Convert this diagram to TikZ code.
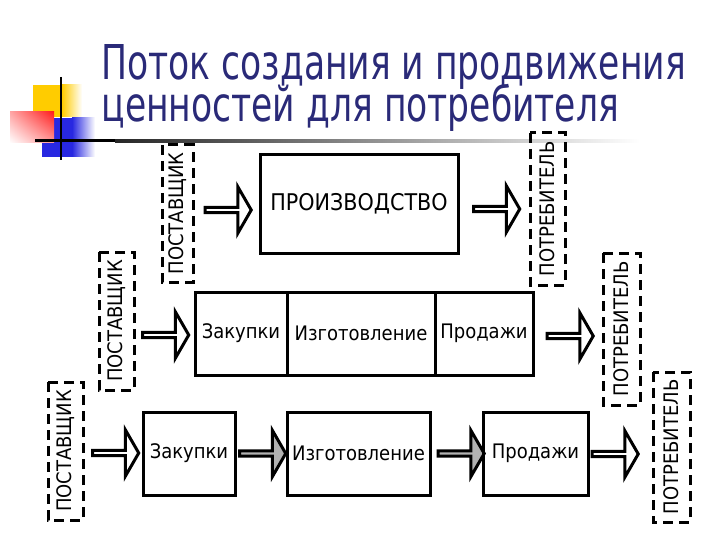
\documentclass[tikz,border=0pt]{standalone}
\usepackage{graphicx}
\usepackage{fontspec}
\setmainfont{DejaVu Sans Condensed}
\usetikzlibrary{shapes.arrows,shadings}
\definecolor{titleblue}{RGB}{42,42,120}
\definecolor{arrgray}{RGB}{178,178,178}
\definecolor{logoyellow}{RGB}{255,204,0}
\definecolor{logored}{RGB}{255,30,30}
\definecolor{logoblue}{RGB}{40,40,225}

\begin{document}
\begin{tikzpicture}[x=1pt,y=-1pt,line width=3pt,font=\fontsize{20}{24}\selectfont,
  dashbox/.style={draw,dash pattern=on 10pt off 6pt,rotate=90,inner sep=0pt},
  stepbox/.style={draw,inner sep=0pt},
  titletext/.style={anchor=base west,inner sep=0pt,text=titleblue,font=\fontsize{48}{48}\selectfont},
  blockarr/.style={single arrow,draw,fill=white,inner sep=0pt,minimum height=46pt,
    minimum width=46pt,single arrow head extend=12pt,single arrow tip angle=120}]
\useasboundingbox (0,0) rectangle (720,540);
% logo and rule
\fill[logoyellow] (33,85) rectangle (62,117);
\shade[left color=logoyellow,right color=white] (62,85) rectangle (82,117);
\fill[logoblue] (42,118) rectangle (72,157);
\shade[left color=logoblue,right color=white] (72,118) rectangle (95,157);
\shade[upper left=red!35,upper right=logored,lower left=white,lower right=red!40] (10,112) rectangle (54,143);
\draw[line width=2.5pt] (61,77)--(61,160);
\fill[black] (35,139.5) rectangle (115,142.5);
\shade[left color=black!85,right color=white] (115,139.5) rectangle (640,142.5);
% title
\node[titletext,text depth=0pt] (title1) at (100,80) {\scalebox{0.8}[1]{Поток создания и продвижения}};
\node[titletext] (title2) at (100,122) {\scalebox{0.8}[1]{ценностей для потребителя}};
% top row
\node[dashbox,minimum width=137pt,minimum height=31pt] (sup1) at (177.5,213.5) {ПОСТАВЩИК};
\node[blockarr] (in1) at (227.5,210) {};
\node[stepbox,minimum width=198pt,minimum height=98pt,font=\fontsize{23}{26}\selectfont] (prod) at (359,204) {ПРОИЗВОДСТВО};
\node[blockarr] (out1) at (496,209) {};
\node[dashbox,minimum width=152pt,minimum height=35pt] (con1) at (547.5,209) {ПОТРЕБИТЕЛЬ};
% middle row
\node[dashbox,minimum width=138pt,minimum height=35pt] (sup2) at (116.5,321) {ПОСТАВЩИК};
\node[blockarr] (in2) at (165,335) {};
\node[stepbox,minimum width=92pt,minimum height=83pt] (buy2) at (241,333.5) {Закупки};
\node[stepbox,minimum width=148pt,minimum height=83pt] (make2) at (361,333.5) {Изготовление};
\node[stepbox,minimum width=98pt,minimum height=83pt] (sell2) at (484,333.5) {Продажи};
\node[blockarr] (out2) at (569.5,336) {};
\node[dashbox,minimum width=152pt,minimum height=37pt] (con2) at (621.5,329) {ПОТРЕБИТЕЛЬ};
% bottom row
\node[dashbox,minimum width=138pt,minimum height=35pt] (sup3) at (65.5,451) {ПОСТАВЩИК};
\node[blockarr] (in3) at (115,453) {};
\node[stepbox,minimum width=92pt,minimum height=83pt] (buy3) at (189,453.5) {Закупки};
\node[blockarr,fill=arrgray] (mid1) at (262,453.5) {};
\node[stepbox,minimum width=143pt,minimum height=83pt] (make3) at (358.5,453.5) {Изготовление};
\node[blockarr,fill=arrgray] (mid2) at (460.5,453.5) {};
\node[stepbox,minimum width=105pt,minimum height=83pt] (sell3) at (535.5,453.5) {Продажи};
\node[blockarr] (out3) at (614.5,454) {};
\node[dashbox,minimum width=150pt,minimum height=37pt] (con3) at (671.5,447) {ПОТРЕБИТЕЛЬ};
\end{tikzpicture}
\end{document}
